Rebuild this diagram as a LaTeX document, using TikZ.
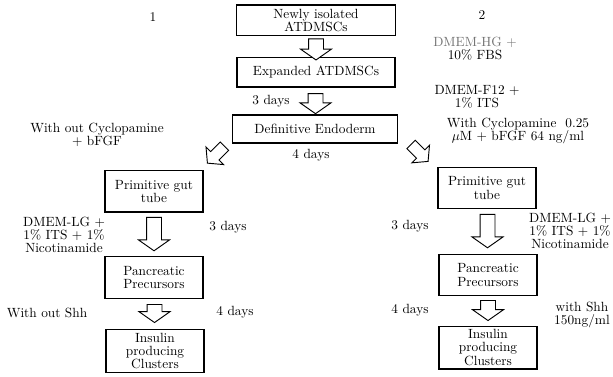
\documentclass[tikz,border=0pt]{standalone}
\usepackage{tikz}
\usetikzlibrary{positioning, calc, shapes.arrows}

\begin{document}
\begin{tikzpicture}[x=0.75pt, y=-0.75pt,
    stage/.style={rectangle, draw=black, line width=1pt, fill=white, align=center,
                  font=\fontsize{10}{10}\selectfont, inner sep=1pt},
    colstage/.style={stage, minimum width=73.5pt, minimum height=31pt},
    note/.style={align=center, font=\fontsize{10}{10}\selectfont, inner sep=0pt},
    downarr/.style={single arrow, draw=black, fill=white, line width=0.7pt,
                    inner sep=0pt, inner ysep=5.25pt, single arrow head extend=6pt,
                    single arrow tip angle=110, rotate=-90},
    slantarr/.style={single arrow, draw=black, fill=white, line width=0.7pt,
                     inner sep=0pt, inner ysep=4.1pt, single arrow head extend=4.9pt,
                     single arrow tip angle=100, minimum height=18pt},
]
\useasboundingbox (0,0) rectangle (613,377);

% Common trunk
\node[stage, minimum width=119pt, minimum height=23pt] (newly) at (316,20.5) {Newly isolated\\ATDMSCs};
\node[stage, minimum width=118.5pt, minimum height=22pt] (expanded) at (316,72.5) {Expanded ATDMSCs};
\node[stage, minimum width=124pt, minimum height=21pt] (definitive) at (315,129) {Definitive Endoderm};
\node[downarr, minimum height=15.75pt] (a1) at ($(newly.south)!0.5!(expanded.north)$) {};
\node[downarr, minimum height=15pt] (a2) at ($(expanded.south)!0.5!(definitive.north)$) {};

\node[note] (one) at (153,17) {1};
\node[note] (two) at (482,15) {2};
\node[note] (hg) at (475,48.5) {\textcolor{black!55}{DMEM-HG +}\\10\% FBS};
\node[note] (f12) at (477,97) {DMEM-F12 +\\1\% ITS};
\node[note] (d3) at (271,101) {3 days};
\node[note] (d4) at (311,155) {4 days};

% Column 1
\node[colstage] (lprim) at (154,191.5) {Primitive gut\\tube};
\node[colstage] (lpanc) at (154,277.5) {Pancreatic\\Precursors};
\node[colstage, minimum height=32pt] (lins) at (155,351) {Insulin\\producing\\Clusters};
\node[slantarr, rotate=-135] (ls) at ($(definitive.south west)!0.5!(lprim.north east)+(0,-4)$) {};
\node[downarr, minimum height=25pt] (la3) at ($(lprim.south)!0.5!(lpanc.north)+(0,-3)$) {};
\node[downarr, minimum height=13.5pt] (la4) at ($(lpanc.south)!0.5!(lins.north)+(0,-3)$) {};

\node[note] (wocyc) at (97,135) {With out Cyclopamine\\+ bFGF};
\node[note] (llg) at (64,235) {DMEM-LG +\\1\% ITS + 1\%\\Nicotinamide};
\node[note] (ld3) at (228,227) {3 days};
\node[note] (woshh) at (47,313) {With out Shh};
\node[note] (ld4) at (235,312) {4 days};

% Column 2
\node[colstage] (rprim) at (487,188) {Primitive gut\\tube};
\node[colstage] (rpanc) at (488,275) {Pancreatic\\Precursors};
\node[colstage, minimum height=32pt] (rins) at (488,347.5) {Insulin\\producing\\Clusters};
\node[slantarr, rotate=-45] (rs) at ($(definitive.south east)!0.5!(rprim.north west)+(0,-4)$) {};
\node[downarr, minimum height=25pt] (ra3) at ($(rprim.south)!0.5!(rpanc.north)+(0,-3)$) {};
\node[downarr, minimum height=15pt] (ra4) at ($(rpanc.south)!0.5!(rins.north)+(0,-3)$) {};

\node[note] (cyc) at (518,131) {With Cyclopamine\ \ 0.25\\$\mu$M + bFGF 64 ng/ml};
\node[note] (rd3) at (410,226) {3 days};
\node[note] (rlg) at (570,231) {DMEM-LG +\\1\% ITS + 1\%\\Nicotinamide};
\node[note] (rd4) at (410,310) {4 days};
\node[note] (shh) at (582,315) {with Shh\\150ng/ml};

\end{tikzpicture}
\end{document}
